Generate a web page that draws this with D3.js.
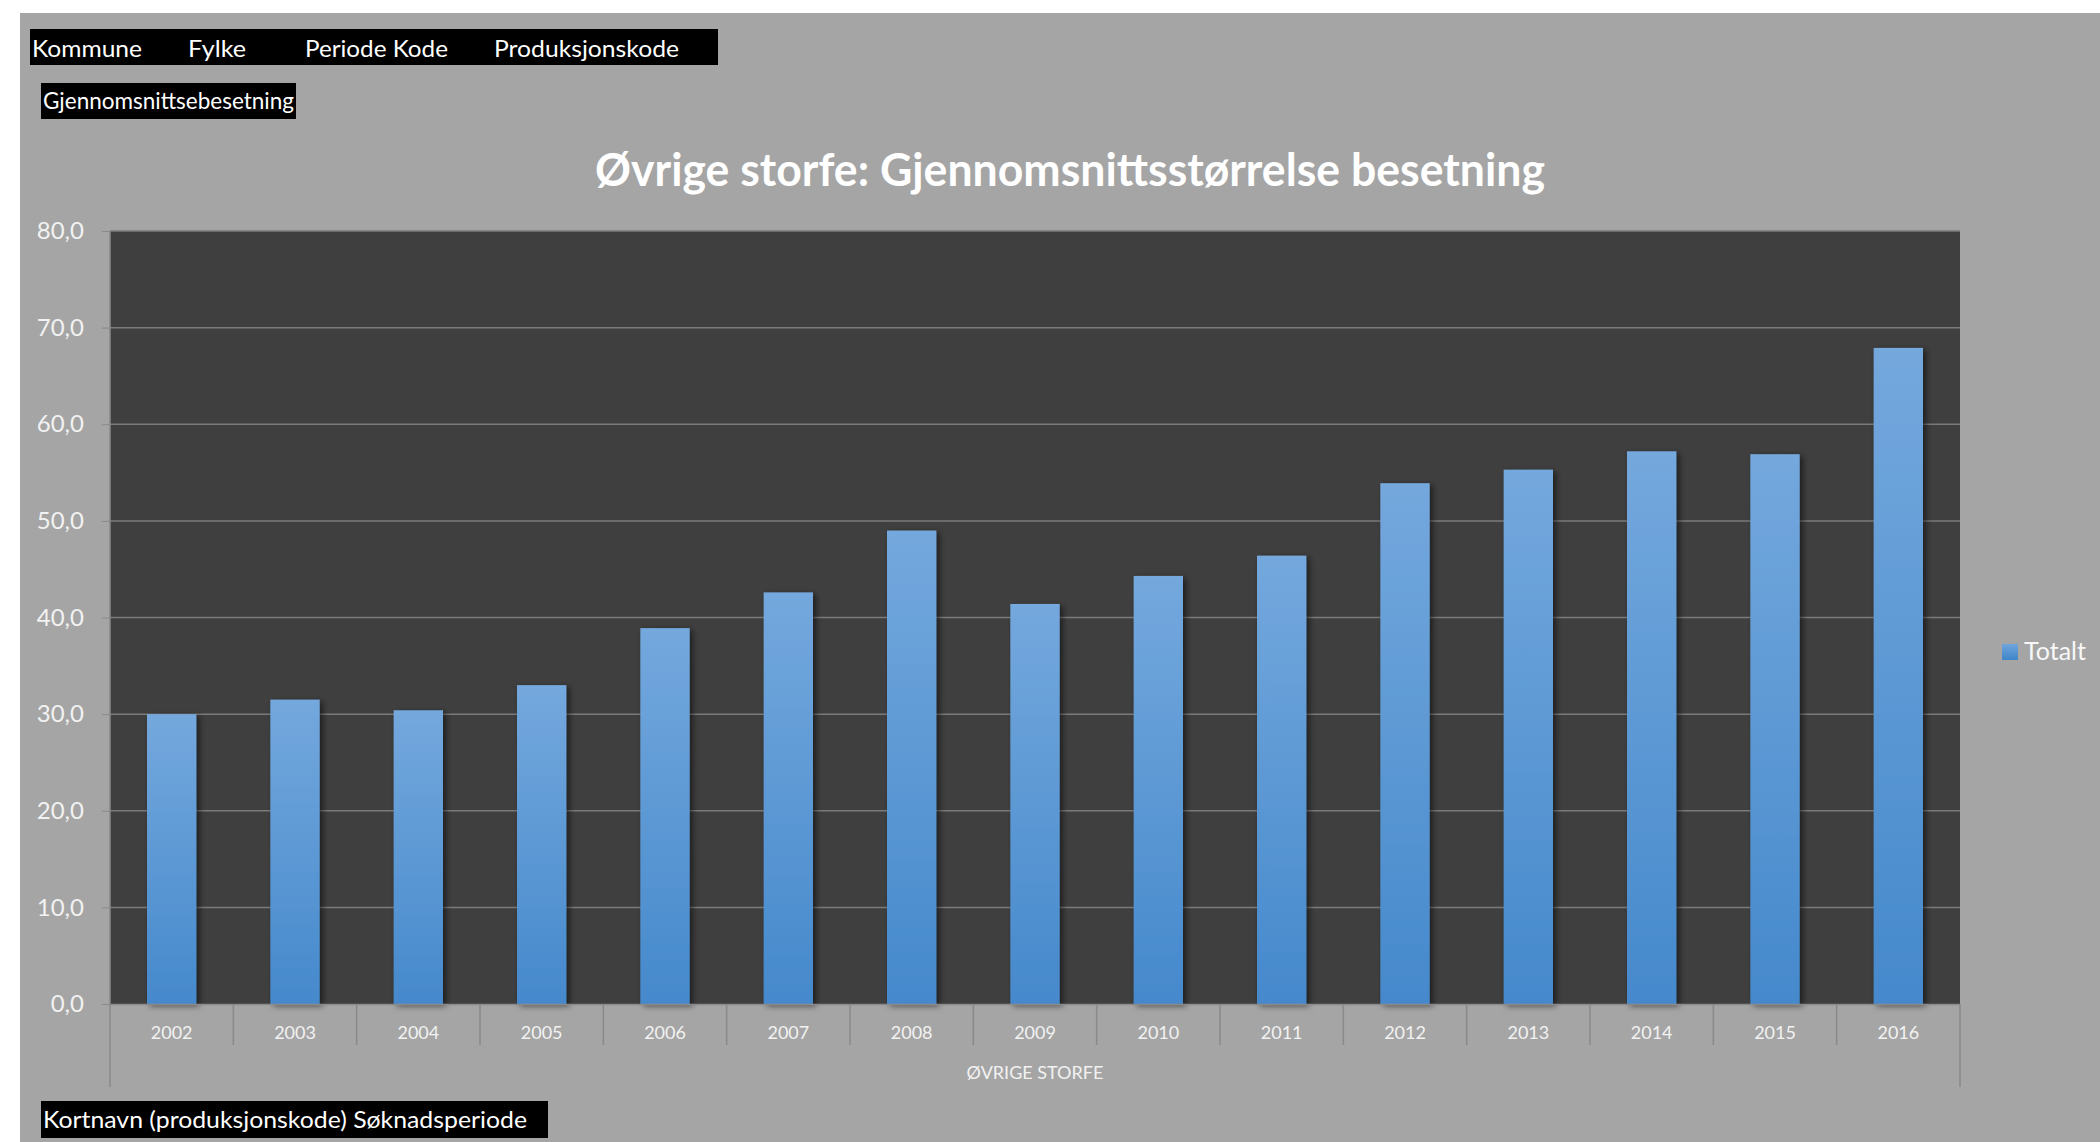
<!DOCTYPE html>
<html>
<head>
<meta charset="utf-8">
<script src="https://cdn.jsdelivr.net/npm/d3@7"></script>
<style>
  body { margin: 0; background: #fff; }
  text { font-family: Lato, "Open Sans", sans-serif; }
</style>
</head>
<body>
<div id="chart"></div>
<script>
// data
var years = ["2002","2003","2004","2005","2006","2007","2008","2009","2010","2011","2012","2013","2014","2015","2016"]
var totalt = [30.0, 31.5, 30.4, 33.0, 38.9, 42.6, 49.0, 41.4, 44.3, 46.4, 53.9, 55.3, 57.2, 56.9, 67.9]
var yTicks = [0, 10, 20, 30, 40, 50, 60, 70, 80]
var headerFields = ["Kommune", "Fylke", "Periode Kode", "Produksjonskode"]
var filterLabel = "Gjennomsnittsebesetning"
var rowLabel = "Kortnavn (produksjonskode) Søknadsperiode"
var chartTitle = "Øvrige storfe: Gjennomsnittsstørrelse besetning"
var categoryTitle = "ØVRIGE STORFE"
var seriesName = "Totalt"

var width = 2100
var height = 1142
var plot = {left: 110, top: 231, right: 1960, bottom: 1004}

var svg = d3.select("#chart")
	.append("svg")
	.attr("width", width)
	.attr("height", height)

var defs = svg.append("defs")

var grad = defs.append("linearGradient")
	.attr("id", "barGrad")
	.attr("x1", 0).attr("y1", 0)
	.attr("x2", 0).attr("y2", 1)
grad.append("stop").attr("offset", "0%").attr("stop-color", "#74a8dd")
grad.append("stop").attr("offset", "100%").attr("stop-color", "#4589cc")

var legGrad = defs.append("linearGradient")
	.attr("id", "legGrad")
	.attr("x1", 0).attr("y1", 0)
	.attr("x2", 0).attr("y2", 1)
legGrad.append("stop").attr("offset", "0%").attr("stop-color", "#6fa5dc")
legGrad.append("stop").attr("offset", "100%").attr("stop-color", "#3f85c9")

var shadow = defs.append("filter")
	.attr("id", "shadow")
	.attr("x", "-30%").attr("y", "-5%")
	.attr("width", "160%").attr("height", "110%")
shadow.append("feDropShadow")
	.attr("dx", 3).attr("dy", 2)
	.attr("stdDeviation", 3)
	.attr("flood-color", "#000")
	.attr("flood-opacity", 0.55)

// grey sheet background
svg.append("rect")
	.attr("x", 20).attr("y", 13)
	.attr("width", width - 20).attr("height", height - 13)
	.style("fill", "#a5a5a5")

// pivot field buttons
function blackLabel(x, y, w, h) {
	svg.append("rect")
		.attr("x", x).attr("y", y)
		.attr("width", w).attr("height", h)
		.style("fill", "#000")
}

blackLabel(30, 29, 688, 36)
var headerX = [32, 188, 305, 494]
var headerW = [110, 58, 143, 185]
svg.selectAll(".hdr")
	.data(headerFields)
	.enter()
	.append("text")
	.attr("class", "hdr")
	.attr("x", (d, i) => headerX[i])
	.attr("y", 57)
	.attr("textLength", (d, i) => headerW[i])
	.attr("lengthAdjust", "spacingAndGlyphs")
	.style("font-size", "24px")
	.style("fill", "#fff")
	.text(d => d)

blackLabel(41, 83, 255, 36)
svg.append("text")
	.attr("x", 43).attr("y", 109)
	.attr("textLength", 251)
	.attr("lengthAdjust", "spacingAndGlyphs")
	.style("font-size", "23px")
	.style("fill", "#fff")
	.text(filterLabel)

blackLabel(41, 1101, 507, 37)
svg.append("text")
	.attr("x", 43).attr("y", 1128)
	.attr("textLength", 484)
	.attr("lengthAdjust", "spacingAndGlyphs")
	.style("font-size", "24px")
	.style("fill", "#fff")
	.text(rowLabel)

// title
svg.append("text")
	.attr("x", 1070).attr("y", 186)
	.attr("text-anchor", "middle")
	.attr("textLength", 950)
	.attr("lengthAdjust", "spacingAndGlyphs")
	.style("font-size", "46px")
	.style("font-weight", "700")
	.style("fill", "#fff")
	.text(chartTitle)

// scales
var x = d3.scaleBand()
	.domain(years)
	.range([plot.left, plot.right])
	.paddingInner(0.6)
	.paddingOuter(0.3)

var y = d3.scaleLinear()
	.domain([0, 80])
	.range([plot.bottom, plot.top])

var noFmt = d3.formatLocale({decimal: ",", thousands: " ", grouping: [3], currency: ["", " kr"]}).format(".1f")

// plot area
svg.append("rect")
	.attr("x", plot.left).attr("y", plot.top)
	.attr("width", plot.right - plot.left)
	.attr("height", plot.bottom - plot.top)
	.style("fill", "#3f3f3f")

// gridlines
svg.selectAll(".grid")
	.data(yTicks.filter(d => d > 0))
	.enter()
	.append("line")
	.attr("x1", plot.left).attr("x2", plot.right)
	.attr("y1", d => y(d)).attr("y2", d => y(d))
	.style("stroke", "#7b7b7b")
	.style("stroke-width", 1.5)

// bars
svg.selectAll(".bar")
	.data(totalt)
	.enter()
	.append("rect")
	.attr("class", "bar")
	.attr("x", (d, i) => x(years[i]))
	.attr("y", d => y(d))
	.attr("width", x.bandwidth())
	.attr("height", d => y(0) - y(d))
	.attr("filter", "url(#shadow)")
	.style("fill", "url(#barGrad)")

// y axis
var yAxis = svg.append("g")
	.attr("transform", "translate(" + plot.left + ",0)")
	.call(d3.axisLeft(y).tickValues(yTicks).tickSize(8).tickPadding(18).tickFormat(noFmt))
yAxis.select(".domain").remove()
yAxis.selectAll(".tick line").style("stroke", "#8a8a8a")
yAxis.selectAll(".tick text")
	.style("font-size", "24px")
	.style("fill", "#f2f2f2")

// left axis line runs down past the category labels
svg.append("line")
	.attr("x1", plot.left).attr("x2", plot.left)
	.attr("y1", plot.top).attr("y2", 1087)
	.style("stroke", "#8a8a8a")
	.style("stroke-width", 1.5)

svg.append("line")
	.attr("x1", plot.right).attr("x2", plot.right)
	.attr("y1", plot.bottom).attr("y2", 1087)
	.style("stroke", "#8a8a8a")
	.style("stroke-width", 1.5)

// category axis
var xAxis = svg.append("g")
	.attr("transform", "translate(0," + plot.bottom + ")")
	.call(d3.axisBottom(x).tickSize(0).tickPadding(22))
xAxis.select(".domain")
	.style("stroke", "#8a8a8a")
	.style("stroke-width", 1.5)
xAxis.selectAll(".tick text")
	.style("font-size", "18px")
	.style("fill", "#f2f2f2")

// separators between categories
svg.selectAll(".sep")
	.data(years.slice(1))
	.enter()
	.append("line")
	.attr("x1", d => x(d) - x.step() * 0.3)
	.attr("x2", d => x(d) - x.step() * 0.3)
	.attr("y1", plot.bottom).attr("y2", 1045)
	.style("stroke", "#8a8a8a")
	.style("stroke-width", 1.5)

svg.append("text")
	.attr("x", (plot.left + plot.right) / 2)
	.attr("y", 1079)
	.attr("text-anchor", "middle")
	.style("font-size", "18px")
	.style("fill", "#f2f2f2")
	.text(categoryTitle)

// legend
svg.append("rect")
	.attr("x", 2002).attr("y", 644)
	.attr("width", 16).attr("height", 16)
	.style("fill", "url(#legGrad)")

svg.append("text")
	.attr("x", 2024).attr("y", 660)
	.style("font-size", "25px")
	.style("fill", "#f7f7f7")
	.text(seriesName)
</script>
</body>
</html>
